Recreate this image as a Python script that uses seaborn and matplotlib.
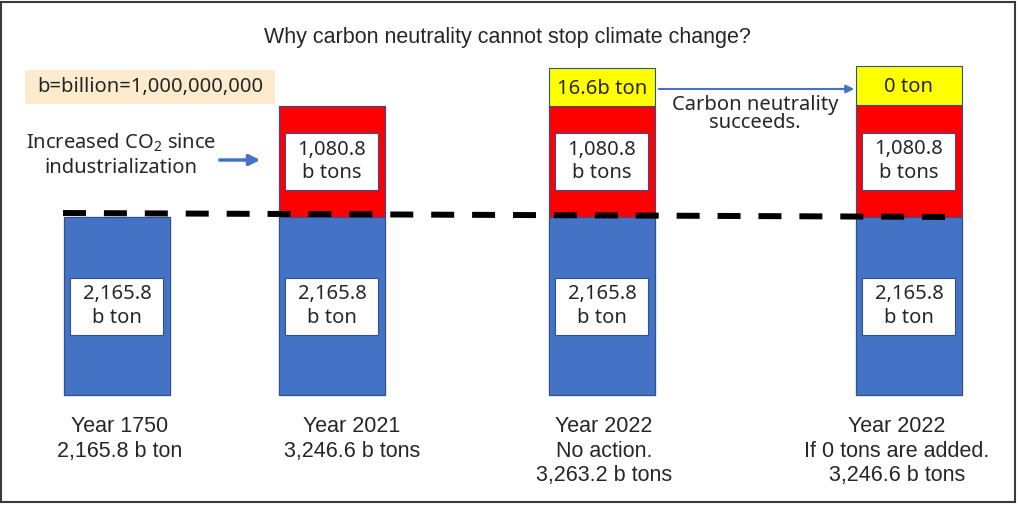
import matplotlib

matplotlib.use("Agg")
import matplotlib.pyplot as plt
import seaborn as sns
from matplotlib.patches import Rectangle

# values shown in the labels (billion tons)
base_co2 = [2165.8, 2165.8, 2165.8, 2165.8]
added_co2 = [0, 1080.8, 1080.8, 1080.8]
new_co2 = [None, None, 16.6, 0]

# drawn (schematic) segment heights read off the picture, not to scale
drawn_blue = [178, 178, 178, 178]
drawn_red = [0, 111, 111, 112]
drawn_yellow = [0, 0, 38, 39]

bar_labels = [
    "Year 1750\n2,165.8 b ton",
    "Year 2021\n3,246.6 b tons",
    "Year 2022\nNo action.\n3,263.2 b tons",
    "Year 2022\nIf 0 tons are added.\n3,246.6 b tons",
]

# layout (pixel-like units, y measured up from the bar bottoms)
bar_x = [117, 332, 602, 909]
label_x = [120, 352, 604, 897]
BASE = 395
BLUE, RED, YELLOW = "#4472C4", "#FF0000", "#FFFF00"
EDGE = "#2F528F"

sns.set_style("white")
plt.rcParams["font.family"] = ["Noto Sans", "DejaVu Sans"]
plt.rcParams["mathtext.fontset"] = "custom"
plt.rcParams["mathtext.rm"] = "Noto Sans"

fig = plt.figure(figsize=(10.19, 5.05), dpi=100)
ax = fig.add_axes([0, 0, 1, 1])


def py(p):
    # pixel row of the picture -> y data value
    return BASE - p


tot_red = [b + r for b, r in zip(drawn_blue, drawn_red)]
tot_all = [t + y for t, y in zip(tot_red, drawn_yellow)]
bar_kw = dict(native_scale=True, width=106 / 215, errorbar=None, saturation=1,
              edgecolor=EDGE, linewidth=0.8, ax=ax)
sns.barplot(x=bar_x, y=tot_all, color=YELLOW, **bar_kw)
sns.barplot(x=bar_x, y=tot_red, color=RED, **bar_kw)
sns.barplot(x=bar_x, y=drawn_blue, color=BLUE, **bar_kw)

ax.set_xlim(0, 1019)
ax.set_ylim(BASE - 505, BASE)
ax.axis("off")

# white value boxes
def value_box(xc, yc, text):
    ax.add_patch(Rectangle((xc - 46.5, yc - 28.5), 93, 57, facecolor="white",
                           edgecolor=EDGE, linewidth=0.8, zorder=4))
    ax.text(xc, yc, text, ha="center", va="center", fontsize=14.5,
            linespacing=1.25, zorder=5)


for i, xc in enumerate(bar_x):
    value_box(xc, drawn_blue[i] / 2, f"{base_co2[i]:,.1f}\nb ton")
    if drawn_red[i] > 0:
        value_box(xc, drawn_blue[i] + drawn_red[i] / 2, f"{added_co2[i]:,.1f}\nb tons")
    if drawn_yellow[i] > 0:
        v = new_co2[i]
        txt = f"{v:g}b ton" if v else "0 ton"
        ax.text(xc, tot_red[i] + drawn_yellow[i] / 2 - 2, txt, ha="center", va="center",
                fontsize=14.5, zorder=5)

# 1750 level reference line
ax.plot([63, 962], [py(213), py(217)], color="black", linewidth=4.3,
        linestyle=(0, (3.85, 3.0)), zorder=6)

# category labels under the bars
for xc, lab in zip(label_x, bar_labels):
    ax.text(xc, py(416), lab, ha="center", va="top", fontsize=15.5,
            family=["Liberation Sans", "DejaVu Sans"], linespacing=1.22)

ax.text(507, py(38), "Why carbon neutrality cannot stop climate change?",
        ha="center", va="center", fontsize=15.5, family=["Liberation Sans", "DejaVu Sans"])

# unit note
ax.add_patch(Rectangle((25, py(104)), 250, 34, facecolor="#FCEBCD", edgecolor="none"))
ax.text(150, py(87), "b=billion=1,000,000,000", ha="center", va="center", fontsize=14.5)

ax.text(121, py(155), "Increased CO$_2$ since\nindustrialization", ha="center",
        va="center", fontsize=14.5, linespacing=1.3)
ax.annotate("", xy=(263, py(160)), xytext=(217, py(160)),
            arrowprops=dict(arrowstyle="-|>", color=BLUE, lw=2.5, mutation_scale=16))

ax.annotate("", xy=(857, py(89)), xytext=(656, py(89)),
            arrowprops=dict(arrowstyle="-|>", color=BLUE, lw=1.5, mutation_scale=12))
ax.text(755, py(114), "Carbon neutrality\nsucceeds.", ha="center", va="center",
        fontsize=14.5, linespacing=0.92)

fig.add_artist(Rectangle((1 / 1019, 3 / 505), 1014 / 1019, 500 / 505,
                         transform=fig.transFigure, fill=False,
                         edgecolor="#3A3A3A", linewidth=1.5))

fig.savefig("out.png", dpi=100)
